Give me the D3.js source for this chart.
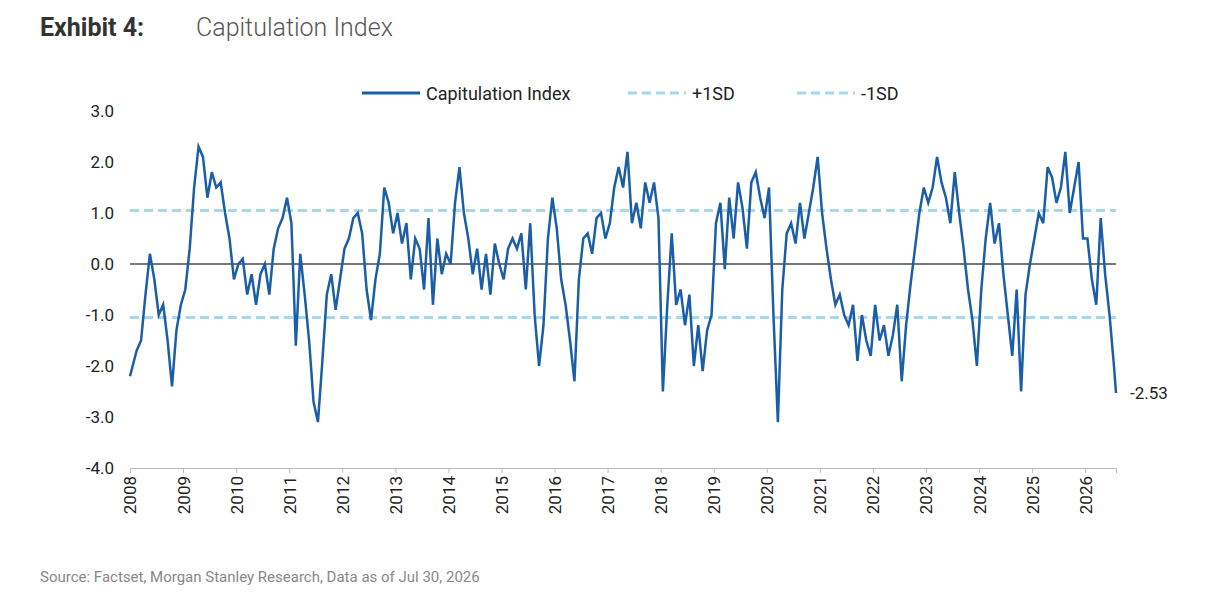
<!DOCTYPE html>
<html><head><meta charset="utf-8">
<script src="https://cdn.jsdelivr.net/npm/d3@7"></script>
<style>body{margin:0;background:#fff;font-family:Roboto,Arial,sans-serif}</style>
</head><body><svg id="c" width="1206" height="603"></svg>
<script>
// monthly readings per year, from Jan 2008
const y2008 = [-2.2,-1.7,-1.5,-0.6,0.2,-0.3,-1.0,-0.8,-1.5,-2.4,-1.3,-0.8];
const y2009 = [-0.5,0.3,1.5,2.3,2.1,1.3,1.8,1.5,1.6,1.0,0.5,-0.3];
const y2010 = [0.0,0.1,-0.6,-0.2,-0.8,-0.2,0.0,-0.6,0.3,0.7,0.9,1.3];
const y2011 = [0.8,-1.6,0.2,-0.6,-1.5,-2.7,-3.1,-1.9,-0.6,-0.2,-0.9,-0.3];
const y2012 = [0.3,0.5,0.9,1.0,0.6,-0.5,-1.1,-0.3,0.2,1.5,1.2,0.6];
const y2013 = [1.0,0.4,0.8,-0.3,0.5,0.3,-0.5,0.9,-0.8,0.5,-0.2,0.2];
const y2014 = [0.0,1.2,1.9,1.0,0.5,-0.2,0.3,-0.5,0.2,-0.6,0.4,0.0];
const y2015 = [-0.3,0.3,0.5,0.3,0.6,-0.5,0.8,-1.0,-2.0,-1.2,0.5,1.3];
const y2016 = [0.7,-0.3,-0.8,-1.5,-2.3,-0.3,0.5,0.6,0.2,0.9,1.0,0.5];
const y2017 = [0.8,1.5,1.9,1.5,2.2,0.8,1.2,0.7,1.6,1.2,1.6,0.9];
const y2018 = [-2.5,-0.8,0.6,-0.8,-0.5,-1.2,-0.6,-2.0,-1.2,-2.1,-1.3,-1.0];
const y2019 = [0.8,1.2,-0.1,1.3,0.5,1.6,1.1,0.3,1.6,1.8,1.3,0.9];
const y2020 = [1.5,-1.0,-3.1,-0.5,0.6,0.8,0.4,1.2,0.5,1.0,1.5,2.1];
const y2021 = [1.0,0.3,-0.3,-0.8,-0.6,-1.0,-1.2,-0.8,-1.9,-1.0,-1.5,-1.8];
const y2022 = [-0.8,-1.5,-1.2,-1.8,-1.4,-0.8,-2.3,-1.2,-0.4,0.3,1.0,1.5];
const y2023 = [1.2,1.5,2.1,1.6,1.3,0.8,1.8,1.0,0.3,-0.5,-1.1,-2.0];
const y2024 = [-0.5,0.5,1.2,0.4,0.8,-0.2,-1.0,-1.8,-0.5,-2.5,-0.6,0.0];
const y2025 = [0.5,1.0,0.8,1.9,1.7,1.2,1.5,2.2,1.0,1.5,2.0,0.5];
const y2026 = [0.5,-0.3,-0.8,0.9,-0.2,-1.0,-2.0,-2.53];
const years = [2008,2009,2010,2011,2012,2013,2014,2015,2016,2017,2018,2019,2020,2021,2022,2023,2024,2025,2026];
const yTicks = [3,2,1,0,-1,-2,-3,-4];
const sdUp = 1.05, sdDown = -1.05;

const all = [y2008,y2009,y2010,y2011,y2012,y2013,y2014,y2015,y2016,y2017,y2018,y2019,y2020,y2021,y2022,y2023,y2024,y2025,y2026];
const data = [];
all.forEach((arr,i)=>arr.forEach((v,m)=>data.push({t:years[i]+(m+0.5)/12, v})));
data[0].t = 2008; data[data.length-1].t = 2026.58;

const hy = f => v => f(v).replace("\u2212","-");

const svg = d3.select("#c");
const x = d3.scaleLinear().domain([2008,2026.58]).range([130,1116]);
const y = d3.scaleLinear().domain([-4,3]).range([468,111]);

svg.append("text").attr("x",40).attr("y",36).attr("font-size",25).attr("font-weight","bold").attr("fill","#333").text("Exhibit 4:");
svg.append("text").attr("x",196).attr("y",36).attr("font-size",25).attr("font-weight",300).attr("fill","#555").text("Capitulation Index");

const ya = svg.append("g").attr("transform","translate(130,0)").call(d3.axisLeft(y).tickValues(yTicks).tickFormat(hy(d3.format(".1f"))).tickSize(0).tickPadding(16));
ya.select(".domain").remove();
ya.selectAll("text").attr("font-size",17).attr("font-family","Roboto,Arial").attr("fill","#222");

const xa = svg.append("g").attr("transform","translate(0,468)").call(d3.axisBottom(x).tickValues(years).tickFormat(d3.format("d")).tickSize(5));
xa.select(".domain").attr("stroke","#bbb");
xa.selectAll("line").attr("stroke","#bbb");
xa.selectAll("text").attr("font-size",17).attr("font-family","Roboto,Arial").attr("fill","#222")
  .attr("transform","rotate(-90)").attr("text-anchor","end").attr("x",-8).attr("y",0).attr("dy","0.35em");

svg.append("line").attr("x1",130).attr("x2",1116).attr("y1",y(0)).attr("y2",y(0)).attr("stroke","#777").attr("stroke-width",2);
[sdUp,sdDown].forEach(s=>svg.append("line").attr("x1",130).attr("x2",1116).attr("y1",y(s)).attr("y2",y(s))
  .attr("stroke","#a6d7ea").attr("stroke-width",3).attr("stroke-dasharray","9 5"));

svg.append("path").datum(data).attr("fill","none").attr("stroke","#1a5ea8").attr("stroke-width",2.5)
  .attr("d",d3.line().x(d=>x(d.t)).y(d=>y(d.v)));

const last = data[data.length-1];
svg.append("text").attr("x",1130).attr("y",y(last.v)+6).attr("font-size",17).attr("fill","#222").text(hy(d3.format(".2f"))(last.v));

const lg = svg.append("g").attr("transform","translate(0,93)");
const items = [{x:362,t:"Capitulation Index",c:"#1a5ea8",d:null},{x:628,t:"+1SD",c:"#a6d7ea",d:"9 5"},{x:797,t:"-1SD",c:"#a6d7ea",d:"9 5"}];
items.forEach(it=>{
  lg.append("line").attr("x1",it.x).attr("x2",it.x+58).attr("stroke",it.c).attr("stroke-width",3).attr("stroke-dasharray",it.d);
  lg.append("text").attr("x",it.x+64).attr("y",7).attr("font-size",18).attr("fill","#222").text(it.t);
});

svg.append("text").attr("x",40).attr("y",582).attr("font-size",15).attr("fill","#888").text("Source: Factset, Morgan Stanley Research, Data as of Jul 30, 2026");
</script></body></html>
